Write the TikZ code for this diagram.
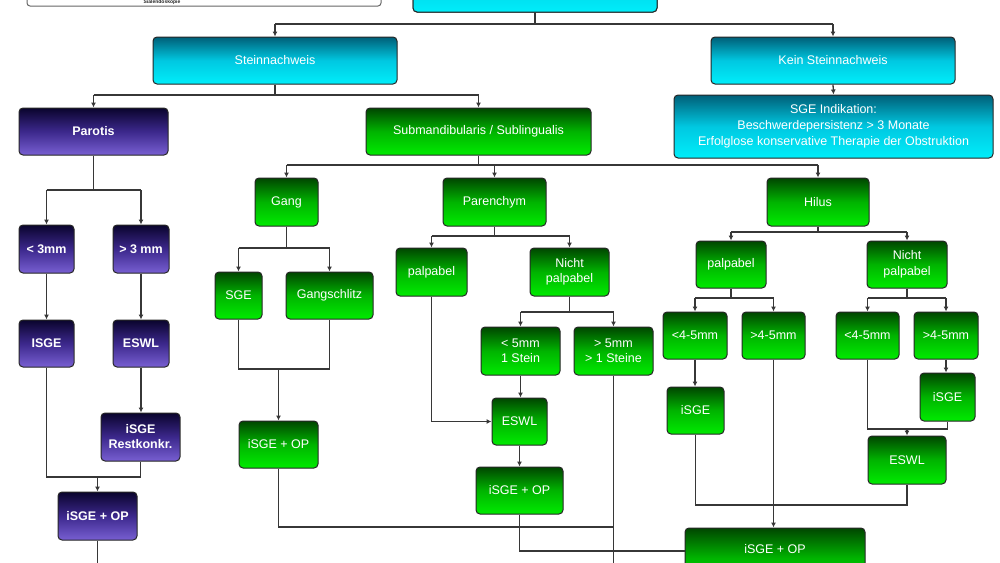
\documentclass[tikz,border=0pt]{standalone}
\usepackage{fontspec}
\setmainfont{Liberation Sans}
\usetikzlibrary{arrows.meta}
\definecolor{cyD}{RGB}{0,95,120}
\definecolor{cyM}{RGB}{0,200,225}
\definecolor{cyL}{RGB}{0,238,250}
\definecolor{puD}{RGB}{10,4,45}
\definecolor{puM}{RGB}{60,40,140}
\definecolor{puL}{RGB}{120,95,210}
\definecolor{grD}{RGB}{0,70,0}
\definecolor{grM}{RGB}{0,180,0}
\definecolor{grL}{RGB}{0,235,0}
\definecolor{lineC}{RGB}{55,55,55}
\tikzset{
  base/.style={rounded corners=4pt, draw=black!85, line width=1pt, text=white,
    align=center, inner sep=1pt, font=\fontsize{12.5}{15.5}\selectfont},
  cybox/.style={base, top color=cyD, bottom color=cyL, middle color=cyM},
  pubox/.style={base, top color=puD, bottom color=puL, middle color=puM, font=\fontsize{12.5}{15}\selectfont\bfseries},
  grbox/.style={base, top color=grD, bottom color=grL, middle color=grM},
  con/.style={draw=lineC, line width=1.3pt},
  arr/.style={con, -{Latex[length=5pt,width=5pt]}},
  sz/.style n args={2}{minimum width=#1pt, minimum height=#2pt}
}
\begin{document}
\begin{tikzpicture}[x=1pt,y=-1pt]
\useasboundingbox (0,0) rectangle (1000,562);
\fill[white] (0,0) rectangle (1000,562);
\begin{scope}
\clip (0,0) rectangle (1000,562);
% top partial boxes
\draw[draw=black!60, line width=1pt, rounded corners=3pt, fill=white] (27,-40) rectangle (381,6);
\path[cybox] (413,-40) rectangle (657,12);
\node[cybox, sz={244}{80}] (topc) at (535,-28) {};
\end{scope}
\node[font=\fontsize{5}{6}\selectfont\bfseries, text=black!85, inner sep=0pt] (toptxt) at (162,2.6) {Sialendoskopie};

% level 1
\node[cybox, sz={244}{47}] (stein) at (275,60.5) {Steinnachweis};
\node[cybox, sz={244}{47}] (kein) at (833,60.5) {Kein Steinnachweis};
\node[cybox, sz={319}{63}, font=\fontsize{12.5}{16}\selectfont] (sgeind) at (833.5,126.5) {SGE Indikation:\\Beschwerdepersistenz > 3 Monate\\Erfolglose konservative Therapie der Obstruktion};

\node[pubox, sz={149}{47}] (parotis) at (93.5,131.5) {Parotis};
\node[grbox, sz={225}{47}] (submand) at (478.5,131.5) {Submandibularis / Sublingualis};

% Parotis column
\node[pubox, sz={55}{48}] (lt3) at (46.5,249) {< 3mm};
\node[pubox, sz={56}{48}] (gt3) at (141,249) {> 3 mm};
\node[pubox, sz={55}{47}] (isge) at (46.5,343.5) {ISGE};
\node[pubox, sz={56}{47}] (eswlP) at (141,343.5) {ESWL};
\node[pubox, sz={79}{48}] (rest) at (140.5,437) {iSGE\\Restkonkr.};
\node[pubox, sz={79}{48}] (isgeopP) at (97.5,516) {iSGE + OP};

% Gang
\node[grbox, sz={63}{48}] (gang) at (286.5,202) {Gang};
\node[grbox, sz={47}{47}] (sgeG) at (238.5,295.5) {SGE};
\node[grbox, sz={87}{47}] (gangs) at (329.5,295.5) {Gangschlitz};
\node[grbox, sz={79}{47}] (isgeopG) at (278.5,444.5) {iSGE + OP};

% Parenchym
\node[grbox, sz={103}{48}] (paren) at (494.5,202) {Parenchym};
\node[grbox, sz={71}{48}] (palpP) at (431.5,272) {palpabel};
\node[grbox, sz={79}{48}] (npalpP) at (569.5,272) {Nicht\\palpabel};
\node[grbox, sz={79}{48}] (lt5) at (520.5,351) {< 5mm\\1 Stein};
\node[grbox, sz={79}{48}] (gt5) at (613.5,351) {> 5mm\\> 1 Steine};
\node[grbox, sz={55}{47}] (eswlM) at (519.5,421.5) {ESWL};
\node[grbox, sz={87}{47}] (isgeopM) at (519.5,490.5) {iSGE + OP};

% Hilus
\node[grbox, sz={102}{48}] (hilus) at (818,202) {Hilus};
\node[grbox, sz={70}{47}] (palpH) at (731,264.5) {palpabel};
\node[grbox, sz={80}{47}] (npalpH) at (907,264.5) {Nicht\\palpabel};
\node[grbox, sz={64}{47}] (h1) at (695,335.5) {<4-5mm};
\node[grbox, sz={63}{47}] (h2) at (773.5,335.5) {>4-5mm};
\node[grbox, sz={63}{47}] (h3) at (867.5,335.5) {<4-5mm};
\node[grbox, sz={64}{47}] (h4) at (946,335.5) {>4-5mm};
\node[grbox, sz={57}{47}] (isgeH1) at (695.5,410.5) {iSGE};
\node[grbox, sz={55}{48}] (isgeH4) at (947.5,397) {iSGE};
\node[grbox, sz={78}{48}] (eswlH) at (907,460) {ESWL};
\begin{scope}
\clip (0,0) rectangle (1000,562);
\node[grbox, sz={180}{60}] (big) at (775,558) {};
\end{scope}
\node[text=white, font=\fontsize{12.5}{15}\selectfont] (bigtxt) at (775,549) {iSGE + OP};

% bus coordinates
\coordinate (b0) at (0,24);
\coordinate (b1) at (0,95);
\coordinate (b2) at (0,190);
\coordinate (b3) at (0,477);
\coordinate (b4) at (0,165);
\coordinate (b5) at (0,248);
\coordinate (b6) at (0,369);
\coordinate (b7) at (0,236);
\coordinate (b8) at (0,312);
\coordinate (b9) at (0,232);
\coordinate (b10) at (0,298);
\coordinate (b11) at (0,429);
\coordinate (b12) at (0,505);
\coordinate (b13) at (0,527);
\coordinate (b14) at (0,551);
\coordinate (bot) at (0,570);

% top
\draw[con] (topc.south |- 0,12) -- (topc.south |- b0);
\draw[con] (stein.north |- b0) -- (kein.north |- b0);
\draw[arr] (stein.north |- b0) -- (stein.north);
\draw[arr] (kein.north |- b0) -- (kein.north);
\draw[arr] (kein.south) -- (sgeind.north);
% Steinnachweis
\draw[con] (stein.south) -- (stein.south |- b1);
\draw[con] (parotis.north |- b1) -- (submand.north |- b1);
\draw[arr] (parotis.north |- b1) -- (parotis.north);
\draw[arr] (submand.north |- b1) -- (submand.north);
% Parotis
\draw[con] (parotis.south) -- (parotis.south |- b2);
\draw[con] (lt3.north |- b2) -- (gt3.north |- b2);
\draw[arr] (lt3.north |- b2) -- (lt3.north);
\draw[arr] (gt3.north |- b2) -- (gt3.north);
\draw[arr] (lt3) -- (isge);
\draw[arr] (gt3) -- (eswlP);
\draw[arr] (eswlP.south) -- (eswlP.south |- rest.north);
\draw[con] (isge.south) -- (isge.south |- b3) -- (rest.south |- b3) -- (rest.south);
\draw[arr] (isgeopP.north |- b3) -- (isgeopP.north);
\draw[con] (isgeopP.south) -- (isgeopP.south |- bot);
% Submandibularis
\draw[con] (submand.south) -- (submand.south |- b4);
\draw[con] (gang.north |- b4) -- (hilus.north |- b4);
\draw[arr] (gang.north |- b4) -- (gang.north);
\draw[arr] (paren.north |- b4) -- (paren.north);
\draw[arr] (hilus.north |- b4) -- (hilus.north);
% Gang
\draw[con] (gang.south) -- (gang.south |- b5);
\draw[con] (sgeG.north |- b5) -- (gangs.north |- b5);
\draw[arr] (sgeG.north |- b5) -- (sgeG.north);
\draw[arr] (gangs.north |- b5) -- (gangs.north);
\draw[con] (sgeG.south) -- (sgeG.south |- b6) -- (gangs.south |- b6) -- (gangs.south);
\draw[arr] (isgeopG.north |- b6) -- (isgeopG.north);
\draw[con] (isgeopG.south) -- (isgeopG.south |- b13) -- (gt5.south |- b13);
% Parenchym
\draw[con] (paren.south) -- (paren.south |- b7);
\draw[con] (palpP.north |- b7) -- (npalpP.north |- b7);
\draw[arr] (palpP.north |- b7) -- (palpP.north);
\draw[arr] (npalpP.north |- b7) -- (npalpP.north);
\draw[con] (npalpP.south) -- (npalpP.south |- b8);
\draw[con] (lt5.north |- b8) -- (gt5.north |- b8);
\draw[arr] (lt5.north |- b8) -- (lt5.north);
\draw[arr] (gt5.north |- b8) -- (gt5.north);
\draw[arr] (palpP.south) |- (eswlM.west);
\draw[arr] (lt5.south) -- (lt5.south |- eswlM.north);
\draw[arr] (eswlM) -- (isgeopM);
\draw[con] (gt5.south) -- (gt5.south |- bot);
\draw[con] (isgeopM.south) -- (isgeopM.south |- b14) -- (big.west |- b14);
% Hilus
\draw[con] (hilus.south) -- (hilus.south |- b9);
\draw[con] (palpH.north |- b9) -- (npalpH.north |- b9);
\draw[arr] (palpH.north |- b9) -- (palpH.north);
\draw[arr] (npalpH.north |- b9) -- (npalpH.north);
\draw[con] (palpH.south) -- (palpH.south |- b10);
\draw[con] (h1.north |- b10) -- (h2.north |- b10);
\draw[arr] (h1.north |- b10) -- (h1.north);
\draw[arr] (h2.north |- b10) -- (h2.north);
\draw[con] (npalpH.south) -- (npalpH.south |- b10);
\draw[con] (h3.north |- b10) -- (h4.north |- b10);
\draw[arr] (h3.north |- b10) -- (h3.north);
\draw[arr] (h4.north |- b10) -- (h4.north);
\draw[arr] (h1.south) -- (h1.south |- isgeH1.north);
\draw[arr] (h4.south) -- (h4.south |- isgeH4.north);
\draw[con] (h3.south) -- (h3.south |- b11) -- (isgeH4.south |- b11) -- (isgeH4.south);
\draw[arr] (eswlH.north |- b11) -- (eswlH.north);
\draw[con] (isgeH1.south) -- (isgeH1.south |- b12) -- (eswlH.south |- b12) -- (eswlH.south);
\draw[arr] (h2.south) -- (h2.south |- big.north);
\end{tikzpicture}
\end{document}
